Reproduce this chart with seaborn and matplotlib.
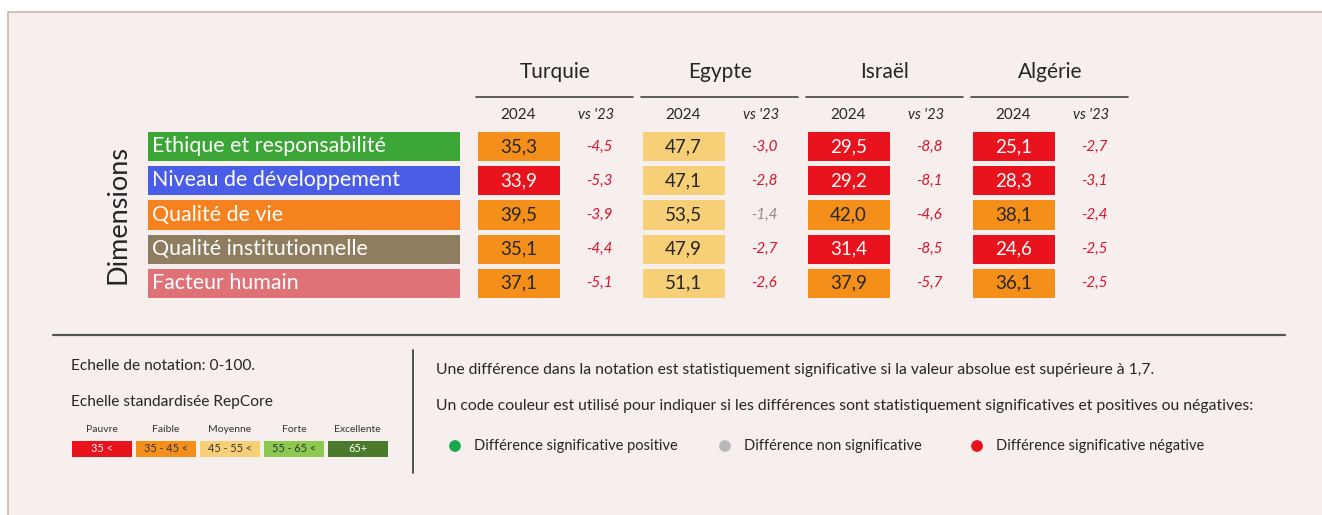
import numpy as np
import matplotlib
matplotlib.use("Agg")
import matplotlib.pyplot as plt
from matplotlib.colors import ListedColormap, BoundaryNorm
from matplotlib.patches import Rectangle
import seaborn as sns

# ---- data ----
dimensions = ["Ethique et responsabilité", "Niveau de développement", "Qualité de vie",
              "Qualité institutionnelle", "Facteur humain"]
dimension_colors = ["#3ba636", "#4a5de6", "#f5821f", "#8f7d5f", "#df7277"]

countries = ["Turquie", "Egypte", "Israël", "Algérie"]
turquie_2024 = [35.3, 33.9, 39.5, 35.1, 37.1]
turquie_vs23 = [-4.5, -5.3, -3.9, -4.4, -5.1]
egypte_2024 = [47.7, 47.1, 53.5, 47.9, 51.1]
egypte_vs23 = [-3.0, -2.8, -1.4, -2.7, -2.6]
israel_2024 = [29.5, 29.2, 42.0, 31.4, 37.9]
israel_vs23 = [-8.8, -8.1, -4.6, -8.5, -5.7]
algerie_2024 = [25.1, 28.3, 38.1, 24.6, 36.1]
algerie_vs23 = [-2.7, -3.1, -2.4, -2.5, -2.5]

scores_2024 = [turquie_2024, egypte_2024, israel_2024, algerie_2024]
scores_vs23 = [turquie_vs23, egypte_vs23, israel_vs23, algerie_vs23]

scale_labels = ["Pauvre", "Faible", "Moyenne", "Forte", "Excellente"]
scale_ranges = ["35 <", "35 - 45 <", "45 - 55 <", "55 - 65 <", "65+"]
scale_bounds = [0, 35, 45, 55, 65, 100]
scale_colors = ["#e8131c", "#f4901a", "#f7cf76", "#8dc850", "#4b7a2c"]
signif_threshold = 1.7

# ---- style ----
sns.set_style("white")
plt.rcParams["font.family"] = ["Lato", "DejaVu Sans"]
PANEL = "#f6efed"
INK = "#262626"
RED_TXT = "#d8142c"
GREY_TXT = "#8c8c8c"
GREEN_TXT = "#1aa84f"

W, H = 1322, 515
fig = plt.figure(figsize=(W / 100, H / 100), dpi=100, facecolor="white")


def px_axes(x0, y0, x1, y1):
    return fig.add_axes([x0 / W, 1 - y1 / H, (x1 - x0) / W, (y1 - y0) / H])


def fr(v):
    return f"{v:.1f}".replace(".", ",")


canvas = px_axes(0, 0, W, H)
canvas.set_xlim(0, W)
canvas.set_ylim(H, 0)
canvas.axis("off")
canvas.add_patch(Rectangle((8, 12), W + 20, H + 20, facecolor=PANEL, edgecolor="#c8b9a3", lw=1.2))

# ---- table ----
gap = 3.2
lw = gap * 72 / 100
top, bottom = 131, 298
col0, col_step, cell_w = 477, 165, 83
delta_off = 78 / cell_w

ax_dim = px_axes(147 - gap / 2, top - gap / 2, 460 + gap / 2, bottom + gap / 2)
sns.heatmap(np.arange(len(dimensions)).reshape(-1, 1), cmap=ListedColormap(dimension_colors),
            cbar=False, linewidths=lw, linecolor=PANEL, xticklabels=False, yticklabels=False, ax=ax_dim)
for i, name in enumerate(dimensions):
    ax_dim.text(0.022, i + 0.5, name, ha="left", va="center", color="white", fontsize=15.4)

canvas.text(118, 214, "Dimensions", rotation=90, ha="center", va="center", fontsize=19.5, color=INK)

cmap_scale = ListedColormap(scale_colors)
norm_scale = BoundaryNorm(scale_bounds, cmap_scale.N)

for k, (country, v24, dv) in enumerate(zip(countries, scores_2024, scores_vs23)):
    x0 = col0 + col_step * k
    canvas.text(x0 + 78, 72, country, ha="center", va="center", fontsize=15, color=INK)
    canvas.plot([x0 - 1, x0 + 156], [97, 97], color="#444444", lw=1.2)
    canvas.text(x0 + cell_w / 2, 115, "2024", ha="center", va="center", fontsize=11, color=INK)
    canvas.text(x0 + cell_w / 2 + 78, 115, "vs '23", ha="center", va="center", fontsize=10.5,
                style="italic", color=INK)

    ax = px_axes(x0 - gap / 2, top - gap / 2, x0 + cell_w + gap / 2, bottom + gap / 2)
    sns.heatmap(np.array(v24).reshape(-1, 1), cmap=cmap_scale, norm=norm_scale, cbar=False,
                linewidths=lw, linecolor=PANEL, xticklabels=False, yticklabels=False, ax=ax)
    for i, (v, d) in enumerate(zip(v24, dv)):
        ax.text(0.5, i + 0.5, fr(v), ha="center", va="center", fontsize=13.5,
                color="white" if v < scale_bounds[1] else INK)
        if abs(d) <= signif_threshold:
            dc = GREY_TXT
        elif d > 0:
            dc = GREEN_TXT
        else:
            dc = RED_TXT
        ax.text(0.5 + delta_off, i + 0.5, fr(d), ha="center", va="center", fontsize=11,
                style="italic", color=dc, clip_on=False)

# ---- footer ----
canvas.plot([53, 1285], [335, 335], color="#555555", lw=1.6)
canvas.plot([413, 413], [350, 473], color="#333333", lw=1.2)

canvas.text(71, 366, "Echelle de notation: 0-100.", ha="left", va="center", fontsize=11.2, color=INK)
canvas.text(71, 402, "Echelle standardisée RepCore", ha="left", va="center", fontsize=11.2, color=INK)

g2 = 3.5
ax_sc = px_axes(72 - g2 / 2, 441 - g2 / 2, 388 + g2 / 2, 457 + g2 / 2)
sns.heatmap(np.arange(len(scale_labels)).reshape(1, -1), cmap=cmap_scale, cbar=False,
            linewidths=g2 * 72 / 100, linecolor=PANEL, xticklabels=False, yticklabels=False, ax=ax_sc)
for j, (lab, rng) in enumerate(zip(scale_labels, scale_ranges)):
    ax_sc.text(j + 0.5, 0.5, rng, ha="center", va="center", fontsize=7.8,
               color="white" if j in (0, 4) else "#333333")
    ax_sc.text(j + 0.5, -0.5, lab, ha="center", va="center", fontsize=7.5, color="#333333", clip_on=False)

canvas.text(436, 370, "Une différence dans la notation est statistiquement significative si la valeur "
            "absolue est supérieure à 1,7.", ha="left", va="center", fontsize=11.3, color=INK)
canvas.text(436, 406, "Un code couleur est utilisé pour indiquer si les différences sont statistiquement "
            "significatives et positives ou négatives:", ha="left", va="center", fontsize=11.3, color=INK)

legend_items = ["Différence significative positive", "Différence non significative",
                "Différence significative négative"]
legend_colors = [GREEN_TXT, "#b8b8b8", "#e8101b"]
legend_x = [455, 725, 977]
canvas.scatter(legend_x, [446] * 3, s=55, c=legend_colors, zorder=3)
for x, lab in zip(legend_x, legend_items):
    canvas.text(x + 19, 446, lab, ha="left", va="center", fontsize=10.5, color=INK)

fig.savefig("out.png", dpi=100, facecolor="white")
